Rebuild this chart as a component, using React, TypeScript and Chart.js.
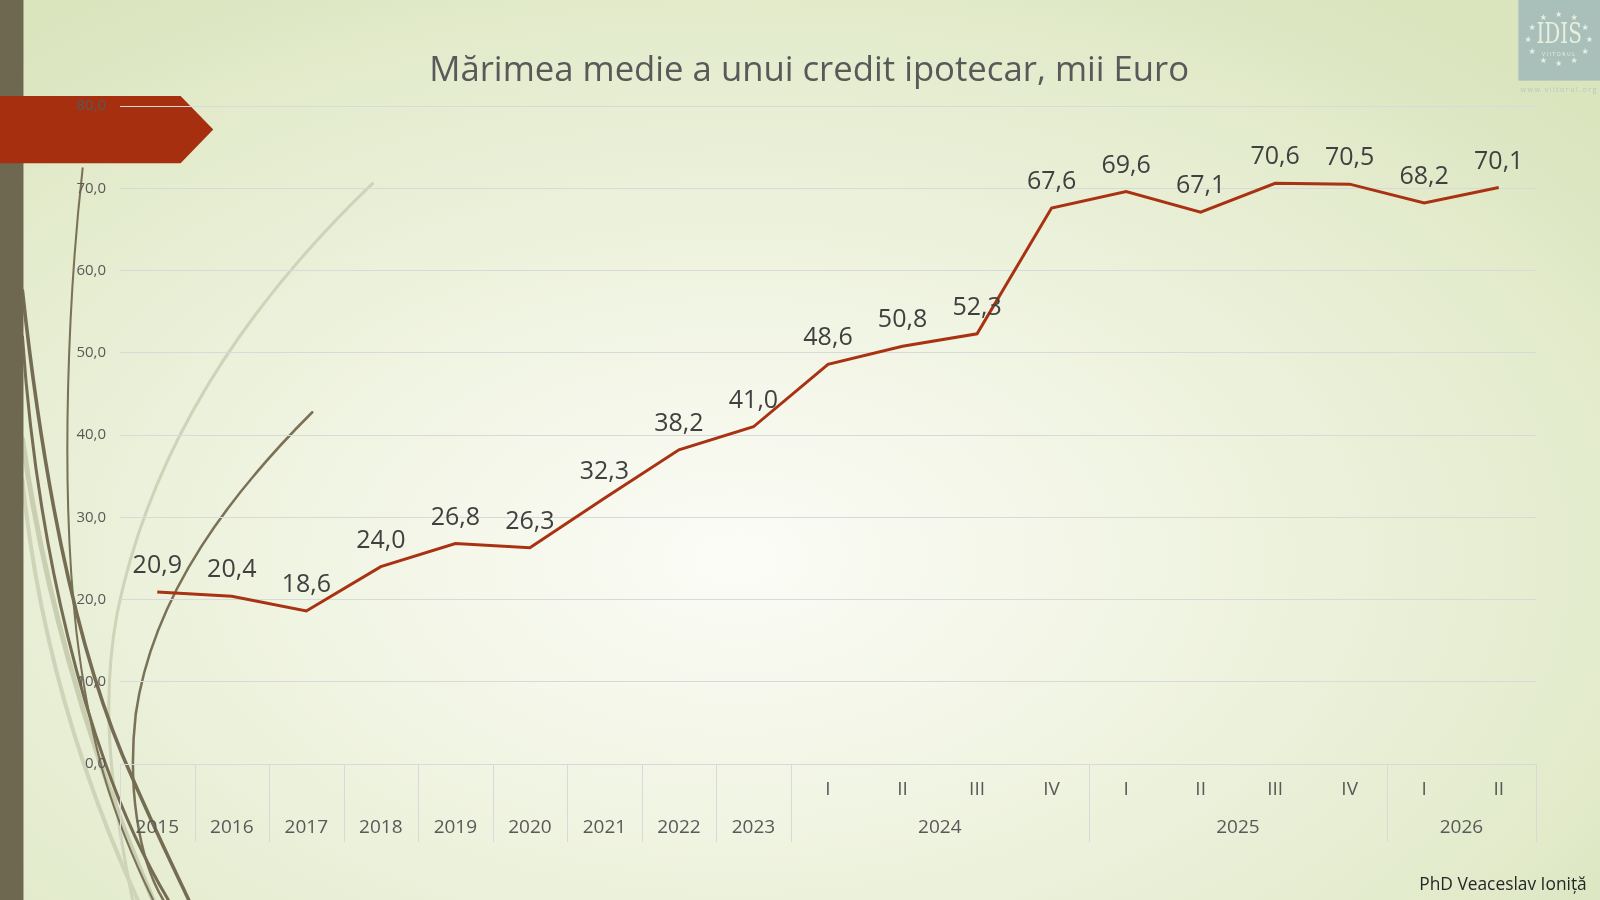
import React, { useEffect, useRef } from "react";
import { Chart, registerables } from "chart.js";

Chart.register(...registerables);

// data
const years = [
  "2015", "2016", "2017", "2018", "2019", "2020", "2021", "2022", "2023",
  "2024", "2024", "2024", "2024",
  "2025", "2025", "2025", "2025",
  "2026", "2026",
];
const quarters = [
  "", "", "", "", "", "", "", "", "",
  "I", "II", "III", "IV",
  "I", "II", "III", "IV",
  "I", "II",
];
const creditValues = [
  20.9, 20.4, 18.6, 24.0, 26.8, 26.3, 32.3, 38.2, 41.0,
  48.6, 50.8, 52.3, 67.6,
  69.6, 67.1, 70.6, 70.5,
  68.2, 70.1,
];
const yMin = 0;
const yMax = 80;
const yStep = 10;

const FONT = "'Open Sans', 'DejaVu Sans', sans-serif";
const fmt = (v: number) => v.toFixed(1).replace(".", ",");

const groupedAxis = {
  id: "groupedAxis",
  afterDraw(chart: any) {
    const { ctx, chartArea } = chart;
    const x = chart.scales.x;
    const half = (x.getPixelForValue(1) - x.getPixelForValue(0)) / 2;
    const bottom = chartArea.bottom;
    ctx.save();
    ctx.strokeStyle = "#d9d9d9";
    ctx.lineWidth = 1;
    ctx.fillStyle = "#595959";
    ctx.font = `19px ${FONT}`;
    ctx.textAlign = "center";
    ctx.textBaseline = "middle";
    const line = (px: number) => {
      ctx.beginPath();
      ctx.moveTo(Math.round(px) + 0.5, bottom);
      ctx.lineTo(Math.round(px) + 0.5, bottom + 78);
      ctx.stroke();
    };
    let start = 0;
    for (let i = 0; i <= years.length; i++) {
      if (i === years.length || years[i] !== years[start]) {
        const l = x.getPixelForValue(start) - half;
        const r = x.getPixelForValue(i - 1) + half;
        if (start === 0) line(l);
        line(r);
        ctx.fillText(years[start], (l + r) / 2, bottom + 64);
        start = i;
      }
    }
    quarters.forEach((q, i) => {
      if (q) ctx.fillText(q, x.getPixelForValue(i), bottom + 26);
    });
    ctx.restore();
  },
};

const pointLabels = {
  id: "pointLabels",
  afterDatasetsDraw(chart: any) {
    const { ctx } = chart;
    const meta = chart.getDatasetMeta(0);
    ctx.save();
    ctx.fillStyle = "#404040";
    ctx.font = `25px ${FONT}`;
    ctx.textAlign = "center";
    ctx.textBaseline = "middle";
    meta.data.forEach((pt: any, i: number) => {
      ctx.fillText(fmt(creditValues[i]), pt.x, pt.y - 26);
    });
    ctx.restore();
  },
};

const CreditChart: React.FC = () => {
  const canvasRef = useRef<HTMLCanvasElement | null>(null);
  const chartInstance = useRef<Chart | null>(null);

  useEffect(() => {
    if (!canvasRef.current) return;
    const labels = years.map((y, i) => (quarters[i] ? `${y} ${quarters[i]}` : y));
    chartInstance.current = new Chart(canvasRef.current, {
      type: "line",
      data: {
        labels,
        datasets: [
          {
            label: "Mărimea medie a unui credit ipotecar",
            data: creditValues,
            borderColor: "#a83212",
            borderWidth: 3,
            pointRadius: 0,
            tension: 0,
            fill: false,
          },
        ],
      },
      options: {
        animation: false,
        responsive: true,
        maintainAspectRatio: false,
        layout: { padding: { left: 0, right: 64, top: 106, bottom: 136 } },
        plugins: {
          legend: { display: false },
          tooltip: { enabled: false },
        },
        scales: {
          x: {
            display: false,
            offset: true,
          },
          y: {
            min: yMin,
            max: yMax,
            afterFit: (scale: any) => {
              scale.width = 120;
            },
            border: { display: false },
            grid: { color: "#d9d9d9", drawTicks: false, lineWidth: 1 },
            ticks: {
              stepSize: yStep,
              padding: 14,
              color: "#595959",
              font: { family: FONT, size: 15 },
              callback: (v: any) => fmt(Number(v)),
            },
          },
        },
      },
      plugins: [groupedAxis, pointLabels],
    });
    return () => {
      chartInstance.current?.destroy();
      chartInstance.current = null;
    };
  }, []);

  return (
    <div style={{ position: "absolute", left: 0, top: 0, width: 1600, height: 900 }}>
      <canvas ref={canvasRef} />
    </div>
  );
};

const stars = Array.from({ length: 12 }, (_, i) => i);

export default function App() {
  const k = 1600 / 1568;
  return (
    <div
      style={{
        position: "fixed",
        left: 0,
        top: 0,
        width: 1600,
        height: 900,
        overflow: "hidden",
        fontFamily: FONT,
        background:
          "radial-gradient(ellipse 70% 75% at 46% 62%, #fbfcf6 0%, #f0f4e2 40%, #e3ebcc 80%, #dae4bd 100%)",
      }}
    >
      {/* slide decoration, drawn in the 1568x882 frame of the reference */}
      <div
        style={{
          position: "absolute",
          left: 0,
          top: 0,
          width: 1568,
          height: 882,
          transform: `scale(${k})`,
          transformOrigin: "0 0",
        }}
      >
        <svg width={1568} height={882} style={{ position: "absolute", left: 0, top: 0 }}>
          <g fill="none" strokeLinecap="round">
            <path d="M 365 180 C 250 290 150 430 115 600 C 100 680 105 760 130 882" stroke="#cfd3b8" strokeWidth={3} />
            <path d="M 22 430 C 40 560 80 720 150 882" stroke="#c9ceb0" strokeWidth={5} />
            <path d="M 22 470 C 35 600 70 740 135 882" stroke="#cfd3b8" strokeWidth={4} />
            <path d="M 81 165 C 68 280 58 470 75 620 C 88 730 110 800 150 882" stroke="#7a7257" strokeWidth={2} />
            <path d="M 306 404 C 230 480 150 580 133 700 C 125 770 135 840 160 882" stroke="#7a7257" strokeWidth={2.5} />
            <path d="M 22 285 C 40 450 70 620 120 740 C 150 810 170 850 185 882" stroke="#756d53" strokeWidth={3.5} />
            <path d="M 22 330 C 35 520 80 740 165 882" stroke="#756d53" strokeWidth={3} />
          </g>
          <rect x={0} y={0} width={23} height={882} fill="#6e6850" />
          <polygon points="0,94 177,94 209,127 177,160 0,160" fill="#a52f0f" />
        </svg>
        <div
          style={{
            position: "absolute",
            left: 1488,
            top: 0,
            width: 80,
            height: 79,
            background: "#a9c0ba",
            color: "#e8efdf",
          }}
        >
          {stars.map((i) => {
            const a = (i / 12) * Math.PI * 2;
            return (
              <span
                key={i}
                style={{
                  position: "absolute",
                  left: 40 + Math.cos(a) * 30 - 4,
                  top: 38 + Math.sin(a) * 24 - 5,
                  fontSize: 8,
                  lineHeight: "10px",
                }}
              >
                ★
              </span>
            );
          })}
          <div
            style={{
              position: "absolute",
              left: 0,
              width: 80,
              top: 18,
              textAlign: "center",
              fontFamily: "'DejaVu Serif', serif",
              fontSize: 28,
              lineHeight: "30px",
              transform: "scaleX(0.7)",
            }}
          >
            IDIS
          </div>
          <div
            style={{
              position: "absolute",
              left: 0,
              width: 80,
              top: 50,
              textAlign: "center",
              fontSize: 5,
              letterSpacing: 1.5,
            }}
          >
            VIITORUL
          </div>
        </div>
        <div
          style={{
            position: "absolute",
            left: 1488,
            top: 83,
            width: 80,
            textAlign: "center",
            fontSize: 7,
            letterSpacing: 1.4,
            color: "#b8c8c2",
            whiteSpace: "nowrap",
          }}
        >
          www.viitorul.org
        </div>
        <div
          style={{
            position: "absolute",
            left: 793,
            top: 66,
            transform: "translate(-50%, -50%)",
            whiteSpace: "nowrap",
            fontSize: 34,
            color: "#595959",
          }}
        >
          Mărimea medie a unui credit ipotecar, mii Euro
        </div>
        <div
          style={{
            position: "absolute",
            right: 1568 - 1555,
            top: 854,
            whiteSpace: "nowrap",
            fontSize: 17,
            color: "#262626",
          }}
        >
          PhD Veaceslav Ioniță
        </div>
      </div>
      <CreditChart />
    </div>
  );
}
